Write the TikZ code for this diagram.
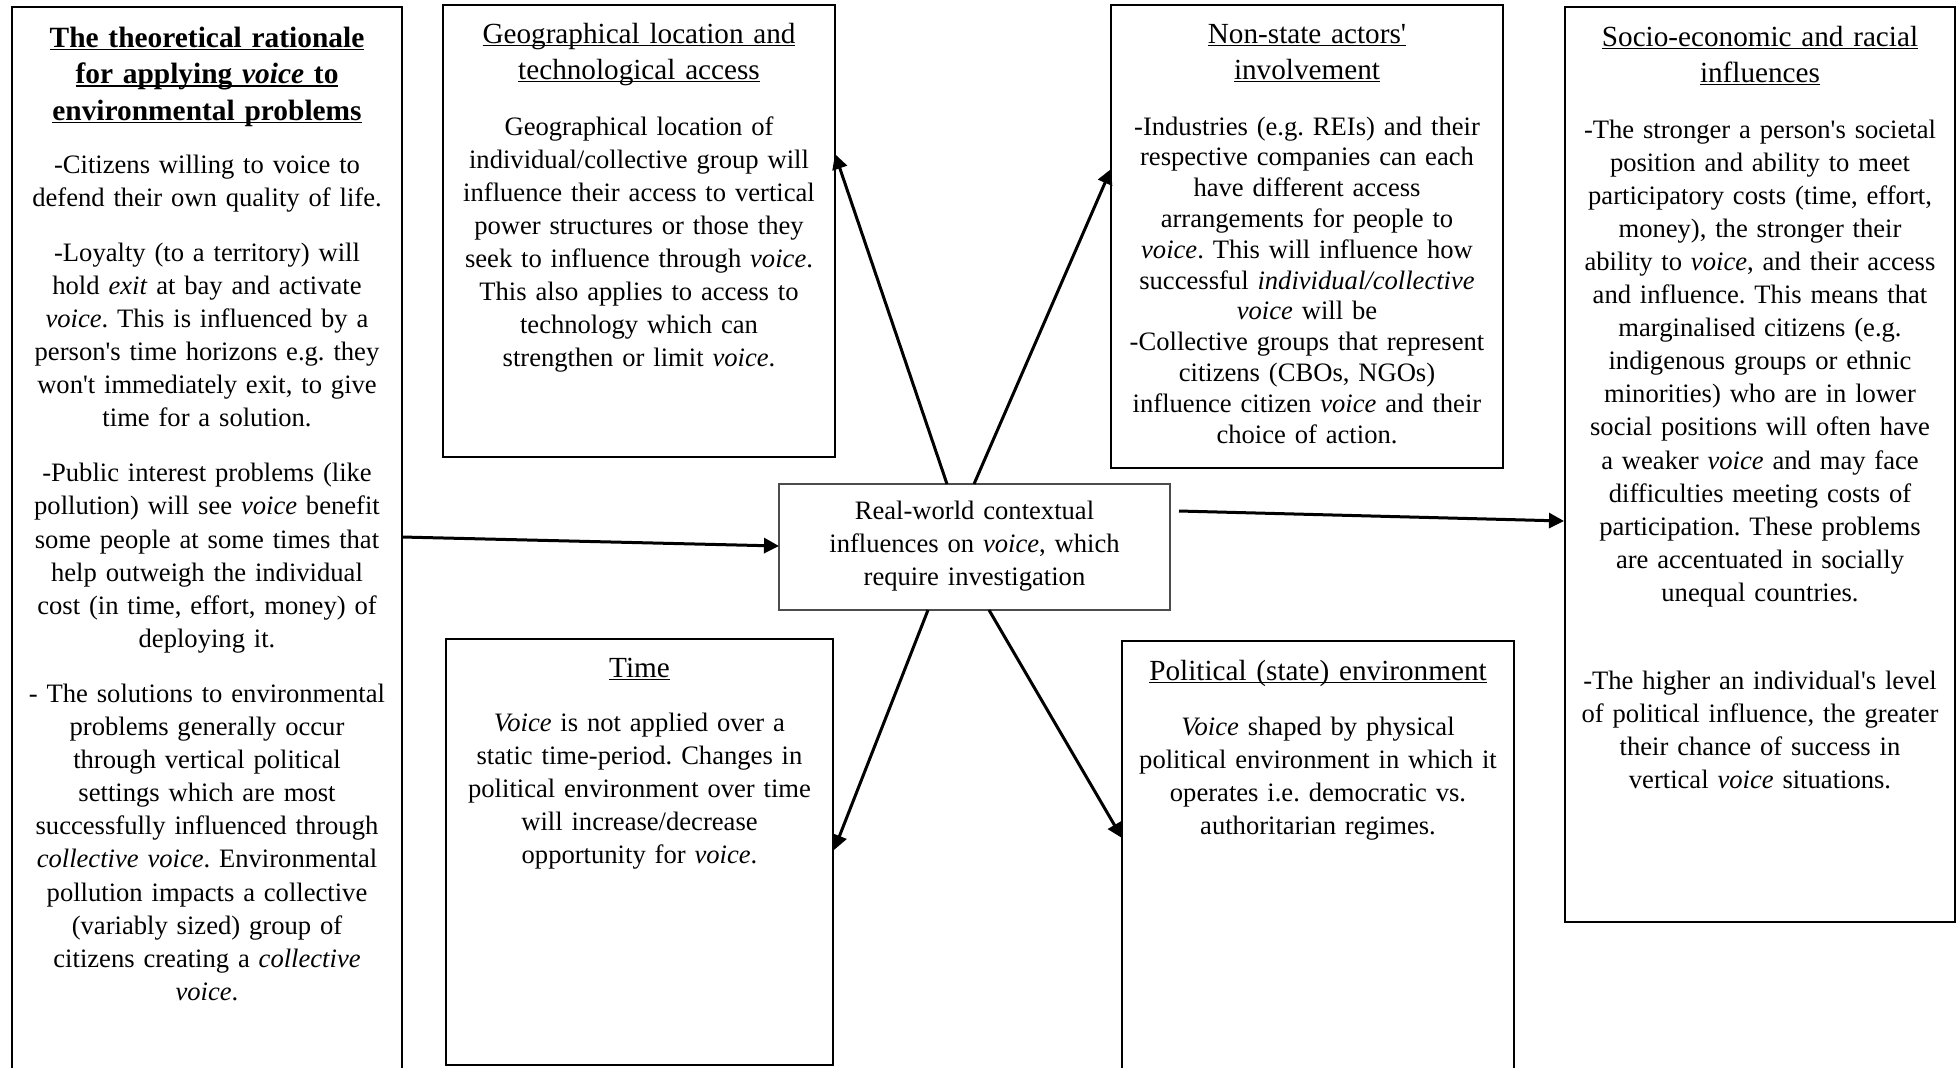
\documentclass[tikz,border=0pt]{standalone}
\usepackage{fontspec}
\setmainfont{Liberation Serif}[Ligatures=TeXOff]
\usetikzlibrary{arrows.meta,calc}
\newcommand\myul[1]{\leavevmode\setbox0=\hbox{#1}\rlap{\rule[-1.6pt]{\wd0}{0.7pt}}\box0}
\frenchspacing
\begin{document}
\begin{tikzpicture}[x=0.5pt,y=-0.5pt,
  box/.style={draw=black, line width=0.8pt, rectangle, inner sep=0pt, outer sep=0pt, anchor=north west},
  cbox/.style={draw=black!70, line width=0.6pt, rectangle, inner sep=0pt, outer sep=0pt, anchor=north west},
  body/.style={text width=#1, align=center, inner sep=0pt, anchor=base, font=\fontsize{13.3pt}{16.55pt}\selectfont},
  tbody/.style={text width=#1, align=center, inner sep=0pt, anchor=base, font=\fontsize{13.3pt}{15.4pt}\selectfont},
  head/.style={text width=#1, align=center, inner sep=0pt, anchor=base, font=\fontsize{14.6pt}{18pt}\selectfont},
  bhead/.style={text width=#1, align=center, inner sep=0pt, anchor=base, font=\fontsize{14.7pt}{18.25pt}\selectfont\bfseries},
  arr/.style={line width=1.5pt, -{Triangle[length=7.5pt,width=7.5pt]}}]
\useasboundingbox (0,0) rectangle (1959,1067);
\clip (0,0) rectangle (1959,1067);

% boxes
\node[box, minimum width=195pt, minimum height=546.5pt] (lb) at (12,7) {};
\node[box, minimum width=196pt, minimum height=226pt] (geo) at (443,5) {};
\node[box, minimum width=193.5pt, minimum height=213pt] (time) at (446,639) {};
\node[box, minimum width=196pt, minimum height=231.5pt] (ns) at (1111,5) {};
\node[box, minimum width=196pt, minimum height=229.5pt] (pol) at (1122,641) {};
\node[box, minimum width=195pt, minimum height=457.5pt] (soc) at (1565,7) {};
\node[cbox, minimum width=195.5pt, minimum height=63pt] (cen) at (779,484) {};

% left box text
\node[bhead=195pt] (lbT) at (207,47) {\myul{The theoretical rationale}\\ \myul{for applying \textit{voice} to}\\ \myul{environmental problems}};
\node[body=195pt] (lbB) at (207,173) {-Citizens willing to voice to\\ defend their own quality of life.\\[11pt]
-Loyalty (to a territory) will\\ hold \textit{exit} at bay and activate\\ \textit{voice}. This is influenced by a\\ person's time horizons e.g. they\\ won't immediately exit, to give\\ time for a solution.\\[11pt]
-Public interest problems (like\\ pollution) will see \textit{voice} benefit\\ some people at some times that\\ help outweigh the individual\\ cost (in time, effort, money) of\\ deploying it.\\[11pt]
- The solutions to environmental\\ problems generally occur\\ through vertical political\\ settings which are most\\ successfully influenced through\\ \textit{collective voice}. Environmental\\ pollution impacts a collective\\ (variably sized) group of\\ citizens creating a \textit{collective}\\ \textit{voice}.};

% geo
\node[head=196pt] (geoT) at (639,43) {\myul{Geographical location and}\\ \myul{technological access}};
\node[body=196pt] (geoB) at (639,135) {Geographical location of\\ individual/collective group will\\ influence their access to vertical\\ power structures or those they\\ seek to influence through \textit{voice}.\\ This also applies to access to\\ technology which can\\ strengthen or limit \textit{voice}.};

% time
\node[head=193pt] (timeT) at (639.5,677) {\myul{Time}};
\node[body=193pt] (timeB) at (639.5,731.5) {\textit{Voice} is not applied over a\\ static time-period. Changes in\\ political environment over time\\ will increase/decrease\\ opportunity for \textit{voice}.};

% non-state
\node[head=196pt] (nsT) at (1307,43) {\myul{Non-state actors'}\\ \myul{involvement}};
\node[tbody=196pt] (nsB) at (1307,135) {-Industries (e.g. REIs) and their\\ respective companies can each\\ have different access\\ arrangements for people to\\ \textit{voice}. This will influence how\\ successful \textit{individual/collective}\\ \textit{voice} will be\\ -Collective groups that represent\\ citizens (CBOs, NGOs)\\ influence citizen \textit{voice} and their\\ choice of action.};

% political
\node[head=196pt] (polT) at (1318,680) {\myul{Political (state) environment}};
\node[body=196pt] (polB) at (1318,735) {\textit{Voice} shaped by physical\\ political environment in which it\\ operates i.e. democratic vs.\\ authoritarian regimes.};

% socio
\node[head=195pt] (socT) at (1760,46) {\myul{Socio-economic and racial}\\ \myul{influences}};
\node[body=195pt] (socB) at (1760,138) {-The stronger a person's societal\\ position and ability to meet\\ participatory costs (time, effort,\\ money), the stronger their\\ ability to \textit{voice}, and their access\\ and influence. This means that\\ marginalised citizens (e.g.\\ indigenous groups or ethnic\\ minorities) who are in lower\\ social positions will often have\\ a weaker \textit{voice} and may face\\ difficulties meeting costs of\\ participation. These problems\\ are accentuated in socially\\ unequal countries.};
\node[body=195pt] (socB2) at (1760,689) {-The higher an individual's level\\ of political influence, the greater\\ their chance of success in\\ vertical \textit{voice} situations.};

% centre
\node[body=195pt] (cenT) at (974.5,519) {Real-world contextual\\ influences on \textit{voice}, which\\ require investigation};

% connector end points
\coordinate (a1s) at ($(lb.north east)+(0,530)$);
\coordinate (a1e) at ($(cen.north west)+(0,62)$);
\coordinate (a2s) at ($(cen.north west)+(168,0)$);
\coordinate (a2e) at ($(geo.north east)+(0,149)$);
\coordinate (a3s) at ($(cen.north west)+(195,0)$);
\coordinate (a3e) at ($(ns.north west)+(0,164)$);
\coordinate (a4s) at ($(cen.north east)+(9,27)$);
\coordinate (a4e) at ($(soc.north west)+(-1,514)$);
\coordinate (a5s) at ($(cen.south west)+(149,0)$);
\coordinate (a5e) at ($(time.north east)+(1,211)$);
\coordinate (a6s) at ($(cen.south west)+(210,0)$);
\coordinate (a6e) at ($(pol.north west)+(0,197)$);

\draw[arr] (a1s) -- (a1e);
\draw[arr] (a2s) -- (a2e);
\draw[arr] (a3s) -- (a3e);
\draw[arr] (a4s) -- (a4e);
\draw[arr] (a5s) -- (a5e);
\draw[arr] (a6s) -- (a6e);
\end{tikzpicture}
\end{document}
